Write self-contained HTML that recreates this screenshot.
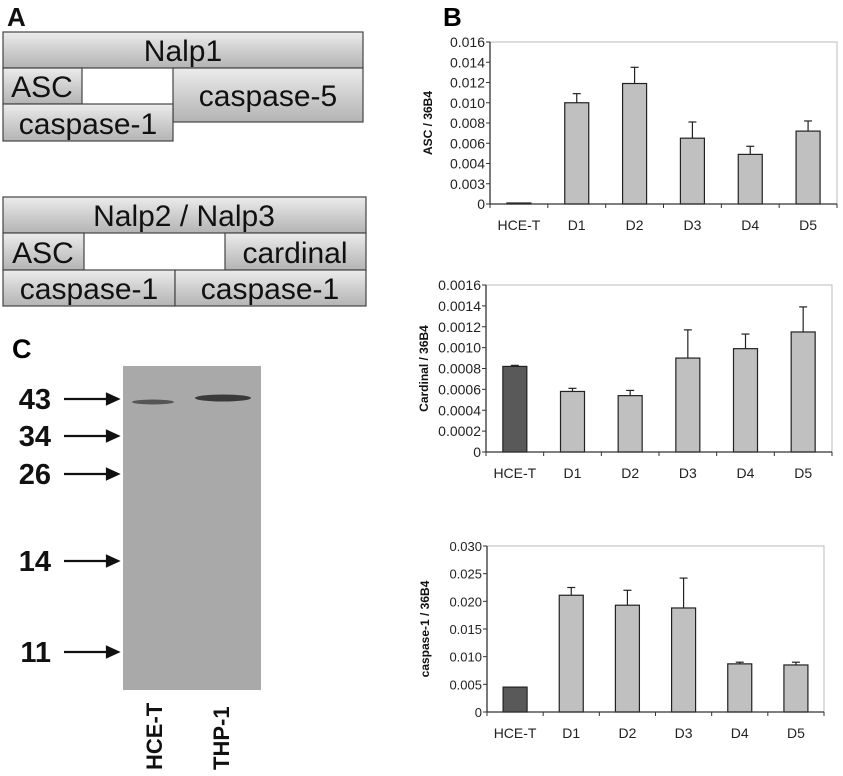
<!DOCTYPE html>
<html><head><meta charset="utf-8"><style>
body{margin:0;background:#fff;width:843px;height:776px;overflow:hidden;font-family:"Liberation Sans",sans-serif}
svg{position:absolute;left:0;top:0}
</style></head><body>
<svg width="843" height="776">
<defs>
<linearGradient id="gb" x1="0" y1="0" x2="0" y2="1">
<stop offset="0" stop-color="#ececec"/><stop offset="0.5" stop-color="#cfcfcf"/><stop offset="1" stop-color="#b4b4b4"/></linearGradient>
</defs>
<g font-size="30" fill="#111">
<text x="7" y="26" font-weight="bold" font-size="26">A</text>
<g stroke="#444" stroke-width="1.2">
<rect x="3" y="32" width="360" height="36" fill="url(#gb)"/>
<rect x="3" y="68" width="79" height="36" fill="url(#gb)"/>
<rect x="173" y="68" width="190" height="54" fill="url(#gb)"/>
<rect x="3" y="104" width="170" height="37" fill="url(#gb)"/>
<rect x="3" y="197" width="363" height="36" fill="url(#gb)"/>
<rect x="3" y="233" width="81" height="37" fill="url(#gb)"/>
<rect x="225" y="233" width="141" height="37" fill="url(#gb)"/>
<rect x="3" y="270" width="172" height="36" fill="url(#gb)"/>
<rect x="175" y="270" width="191" height="36" fill="url(#gb)"/>
</g>
<g stroke="none" text-anchor="middle">
<text x="183" y="61">Nalp1</text>
<text x="42" y="97">ASC</text>
<text x="268" y="106">caspase-5</text>
<text x="88" y="134">caspase-1</text>
<text x="184" y="226">Nalp2 / Nalp3</text>
<text x="43" y="263">ASC</text>
<text x="295" y="263">cardinal</text>
<text x="89" y="299">caspase-1</text>
<text x="270" y="299">caspase-1</text>
</g>
</g>
<g>
<text x="12" y="358" font-weight="bold" font-size="27">C</text>
<rect x="123" y="366" width="138" height="324" fill="#a9a9a9"/>
<ellipse cx="153" cy="402" rx="21" ry="2.5" fill="#555"/>
<ellipse cx="223" cy="398" rx="28" ry="3.5" fill="#3a3a3a"/>
<g font-weight="bold" font-size="29" text-anchor="end" fill="#111">
<text x="51" y="409">43</text><text x="51" y="446">34</text><text x="51" y="484">26</text><text x="51" y="571">14</text><text x="51" y="662">11</text>
</g>
<g stroke="#111" stroke-width="2.2" fill="#111">
<line x1="64" y1="399" x2="110" y2="399"/><polygon points="118,399 107,394 107,404"/>
<line x1="64" y1="436" x2="110" y2="436"/><polygon points="118,436 107,431 107,441"/>
<line x1="64" y1="474" x2="110" y2="474"/><polygon points="118,474 107,469 107,479"/>
<line x1="64" y1="561" x2="110" y2="561"/><polygon points="118,561 107,556 107,566"/>
<line x1="64" y1="652" x2="110" y2="652"/><polygon points="118,652 107,647 107,657"/>
</g>
<g font-size="22" fill="#111" font-weight="bold">
<text transform="translate(162,770) rotate(-90)">HCE-T</text>
<text transform="translate(229,770) rotate(-90)">THP-1</text>
</g>
</g>
<text x="443" y="26" font-weight="bold" font-size="26">B</text>
<g id="charts"></g>
</svg>
<script>
const categories=["HCE-T","D1","D2","D3","D4","D5"];
const ascValues=[0.0001,0.0100,0.0119,0.0065,0.0049,0.0072];
const ascErrors=[0,0.0009,0.0016,0.0016,0.0008,0.0010];
const ascTicks=["0","0.003","0.004","0.006","0.008","0.010","0.012","0.014","0.016"];
const cardValues=[0.00082,0.00058,0.00054,0.00090,0.00099,0.00115];
const cardErrors=[0.00001,0.00003,0.00005,0.00027,0.00014,0.00024];
const cardTicks=["0","0.0002","0.0004","0.0006","0.0008","0.0010","0.0012","0.0014","0.0016"];
const caspValues=[0.0045,0.0211,0.0193,0.0188,0.0087,0.0085];
const caspErrors=[0,0.0014,0.0027,0.0054,0.0003,0.0005];
const caspTicks=["0","0.005","0.010","0.015","0.020","0.025","0.030"];
const NS="http://www.w3.org/2000/svg";
const root=document.getElementById('charts');
function mk(tag,attrs,parent){const e=document.createElementNS(NS,tag);for(const k in attrs)e.setAttribute(k,attrs[k]);parent.appendChild(e);return e;}
function chart(name,L,R,T,B,max,ticks,vals,errs,title,darkFirst,tfs){
  const g=mk('g',{},root);
  
  
  const y=v=>B-(v/max)*(B-T);
  const cw=(R-L)/categories.length;
  const x=i=>L+cw*(i+0.5);
  mk('rect',{x:L,y:T,width:R-L,height:B-T,fill:'none',stroke:'#bbb','stroke-width':1},g);
  const n=ticks.length-1;
  ticks.forEach((t,i)=>{
    const v=max*i/n, yy=y(v);
    mk('line',{x1:L-4,y1:yy,x2:L,y2:yy,stroke:'#333'},g);
    const tx=mk('text',{x:L-5,y:yy+5,'text-anchor':'end','font-size':tfs,fill:'#222'},g);
    tx.textContent=t;
    
    
  });
  for(let i=0;i<=categories.length;i++){mk('line',{x1:L+cw*i,y1:B,x2:L+cw*i,y2:B+4,stroke:'#333'},g);}
  vals.forEach((v,i)=>{
    const bw=24;
    const r=mk('rect',{x:x(i)-bw/2,y:y(v),width:bw,height:B-y(v),fill:(darkFirst&&i===0)?'#595959':'#c0c0c0',stroke:'#222','stroke-width':1.2},g);
    
    
    if(errs[i]>0){
      const ye=y(v+errs[i]);
      mk('line',{x1:x(i),y1:y(v),x2:x(i),y2:ye,stroke:'#222','stroke-width':1.2},g);
      mk('line',{x1:x(i)-4,y1:ye,x2:x(i)+4,y2:ye,stroke:'#222','stroke-width':1.2},g);
    }
    const lb=mk('text',{x:x(i),y:B+26,'text-anchor':'middle','font-size':14,fill:'#222'},g);
    lb.textContent=categories[i];
    
    
  });
  mk('line',{x1:L,y1:T,x2:L,y2:B,stroke:'#333','stroke-width':1.3},g);
  mk('line',{x1:L,y1:B,x2:R,y2:B,stroke:'#333','stroke-width':1.3},g);
  const tt=mk('text',{transform:`translate(${L-58},${(T+B)/2}) rotate(-90)`,'text-anchor':'middle','font-size':12,'font-weight':'bold',fill:'#111'},g);
  tt.textContent=title;
  
  
}
chart('asc-chart',490,837,42,204,0.016,ascTicks,ascValues,ascErrors,'ASC / 36B4',true,14);
chart('cardinal-chart',486,832,285,452,0.0016,cardTicks,cardValues,cardErrors,'Cardinal / 36B4',true,14);
chart('caspase1-chart',487,824,546,712,0.030,caspTicks,caspValues,caspErrors,'caspase-1 / 36B4',true,13);
</script>
</body></html>
